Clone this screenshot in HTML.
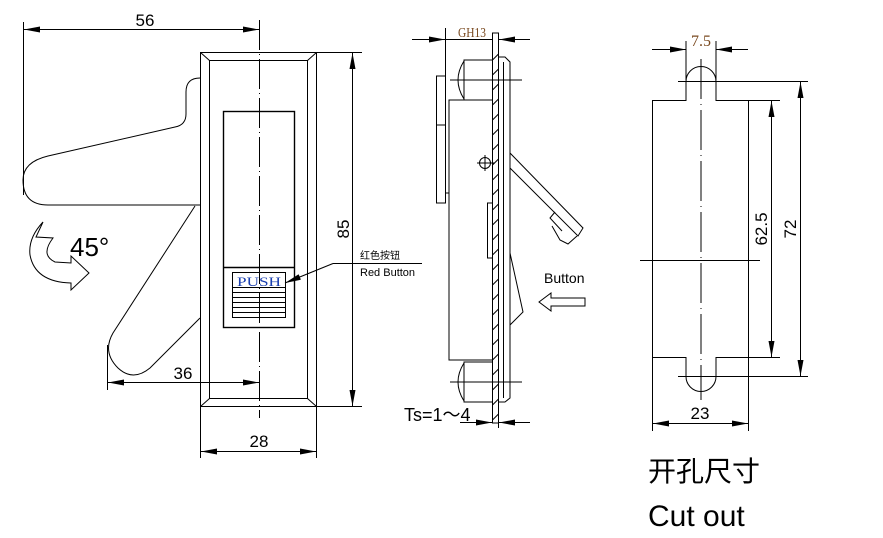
<!DOCTYPE html>
<html><head><meta charset="utf-8"><style>
body{margin:0;background:#fff}
svg{display:block}
</style></head><body>
<svg width="883" height="538" viewBox="0 0 883 538" xmlns="http://www.w3.org/2000/svg" font-family="Liberation Sans, sans-serif">
<defs>
<marker id="a" markerWidth="16" markerHeight="6" refX="16" refY="3" orient="auto-start-reverse" markerUnits="userSpaceOnUse"><path d="M0,0 L16,3 L0,6 z" fill="#000"/></marker>
</defs>
<g fill="none" stroke="#000" stroke-width="1">
<!-- LEFT VIEW -->
<rect x="200.5" y="52.5" width="116" height="354"/>
<rect x="209.5" y="60.5" width="98" height="338"/>
<line x1="200.5" y1="52.5" x2="209.5" y2="60.5"/><line x1="316.5" y1="52.5" x2="307.5" y2="60.5"/>
<line x1="200.5" y1="406.5" x2="209.5" y2="398.5"/><line x1="316.5" y1="406.5" x2="307.5" y2="398.5"/>
<rect x="223.5" y="111.5" width="71" height="216" stroke-width="1.4"/>
<line x1="223.5" y1="267.5" x2="294.5" y2="267.5" stroke-width="1.4"/>
<rect x="232.5" y="272.5" width="53" height="45"/>
<path d="M232.5 287.5H285.5M232.5 292.5H285.5M232.5 297.5H285.5M232.5 302.5H285.5M232.5 307.5H285.5M232.5 312.5H285.5"/>
<line x1="259.5" y1="20" x2="259.5" y2="418" stroke-dasharray="30,4,1,4"/>
<path d="M200 78 Q186 78 186 92 L186 114 Q186 125 175 127 L48 156 Q23 162 23 180 Q23 205 48 205 L200 205"/>
<path d="M195 206 L113 333 Q102 352 118 368 Q133 382 150 368 L200 318"/>
<line x1="23.5" y1="22" x2="23.5" y2="195"/>
<line x1="24" y1="29.5" x2="259" y2="29.5" marker-start="url(#a)" marker-end="url(#a)"/>
<line x1="107.5" y1="345" x2="107.5" y2="390"/>
<line x1="108" y1="382.5" x2="259" y2="382.5" marker-start="url(#a)" marker-end="url(#a)"/>
<line x1="316" y1="52.5" x2="362" y2="52.5"/><line x1="316" y1="406.5" x2="362" y2="406.5"/>
<line x1="352.5" y1="53" x2="352.5" y2="406" marker-start="url(#a)" marker-end="url(#a)"/>
<line x1="200.5" y1="406" x2="200.5" y2="458"/><line x1="316.5" y1="406" x2="316.5" y2="458"/>
<line x1="201" y1="451.5" x2="316" y2="451.5" marker-start="url(#a)" marker-end="url(#a)"/>
<line x1="333" y1="263.5" x2="285" y2="283" marker-end="url(#a)"/>
<line x1="333" y1="263.5" x2="422" y2="263.5"/>
<path d="M43 222 L36 237 L53 238 Q40 255 55 262 L71 263 L71 256 L89 273 L71 290 L71 283 Q35 282 30 255 Q28 238 43 222 Z"/>
<!-- MIDDLE VIEW -->
<rect x="492.5" y="33" width="6" height="390"/>
<path d="M498.5 57 L505 57 L510 62 L510 398 L505 402 L498.5 402"/>
<line x1="503.5" y1="62" x2="503.5" y2="398"/>
<path d="M492.5 60 L464 60 L464 100 L492.5 100 M464 61 Q452 80 464 99"/>
<path d="M492.5 362 L464 362 L464 402 L492.5 402 M464 363 Q452 382 464 401"/>
<path d="M492.5 100 L449 100 L449 193 L445 193 M449 193 L449 360 L492.5 360"/>
<rect x="436.5" y="76" width="9" height="127"/>
<line x1="436.5" y1="125" x2="445.5" y2="125"/>
<rect x="487.5" y="203" width="5" height="55"/>
<line x1="450" y1="80" x2="522" y2="80"/><line x1="450" y1="382" x2="522" y2="382"/>
<circle cx="485" cy="163" r="5.5"/><line x1="477" y1="163" x2="495" y2="163"/><line x1="485" y1="155" x2="485" y2="171"/>
<path d="M510 153 L583 228 L578 236 L510 168"/>
<path d="M555 212 L550 218 L562 231 M552 226 L560 240 L568 244 L577 236"/>
<path d="M510 253 L523 312 L510 325"/>
<path d="M492.5 60 l6 -6 M492.5 75 l6 -6 M492.5 90 l6 -6 M492.5 105 l6 -6 M492.5 120 l6 -6 M492.5 135 l6 -6 M492.5 150 l6 -6 M492.5 165 l6 -6 M492.5 180 l6 -6 M492.5 195 l6 -6 M492.5 210 l6 -6 M492.5 225 l6 -6 M492.5 240 l6 -6 M492.5 255 l6 -6 M492.5 270 l6 -6 M492.5 285 l6 -6 M492.5 300 l6 -6 M492.5 315 l6 -6 M492.5 330 l6 -6 M492.5 345 l6 -6 M492.5 360 l6 -6 M492.5 375 l6 -6 M492.5 390 l6 -6 M492.5 405 l6 -6 M492.5 420 l6 -6"/>
<line x1="445.5" y1="28" x2="445.5" y2="76"/>
<line x1="412" y1="39.5" x2="445" y2="39.5" marker-end="url(#a)"/>
<line x1="530" y1="39.5" x2="499" y2="39.5" marker-end="url(#a)"/>
<line x1="445" y1="39.5" x2="492" y2="39.5"/>
<line x1="460" y1="422.5" x2="492" y2="422.5" marker-end="url(#a)"/>
<line x1="530" y1="422.5" x2="499" y2="422.5" marker-end="url(#a)"/>
<line x1="498.5" y1="402" x2="498.5" y2="428"/>
<path d="M585 298 L585 306 L551 306 L551 311 L539 302 L551 293 L551 298 Z"/>
<!-- RIGHT VIEW -->
<path d="M652.5 100.5 L686 100.5 L686 81.5 A15 15 0 0 1 716 81.5 L716 100.5 L748.5 100.5 L748.5 357.5 L716 357.5 L716 376.5 A15 15 0 0 1 686 376.5 L686 357.5 L652.5 357.5 Z"/>
<line x1="701" y1="59" x2="701" y2="400" stroke-dasharray="40,5,1,5"/>
<line x1="640" y1="260.5" x2="760" y2="260.5"/>
<line x1="678" y1="81.5" x2="808" y2="81.5"/><line x1="678" y1="376.5" x2="808" y2="376.5"/>
<line x1="748" y1="100.5" x2="780" y2="100.5"/><line x1="748" y1="357.5" x2="780" y2="357.5"/>
<line x1="771.5" y1="101" x2="771.5" y2="357" marker-start="url(#a)" marker-end="url(#a)"/>
<line x1="800.5" y1="82" x2="800.5" y2="376" marker-start="url(#a)" marker-end="url(#a)"/>
<line x1="686" y1="41" x2="686" y2="80"/><line x1="716" y1="41" x2="716" y2="80"/>
<line x1="652" y1="49.5" x2="686" y2="49.5" marker-end="url(#a)"/>
<line x1="748" y1="49.5" x2="716" y2="49.5" marker-end="url(#a)"/>
<line x1="652.5" y1="357" x2="652.5" y2="431"/><line x1="748.5" y1="357" x2="748.5" y2="431"/>
<line x1="653" y1="423.5" x2="748" y2="423.5" marker-start="url(#a)" marker-end="url(#a)"/>
</g>
<g fill="#000">
<text x="145" y="26" font-size="17" text-anchor="middle">56</text>
<text x="183" y="379" font-size="17" text-anchor="middle">36</text>
<text x="259" y="447" font-size="17" text-anchor="middle">28</text>
<text font-size="17" text-anchor="middle" transform="translate(349,229) rotate(-90)">85</text>
<text x="70" y="256" font-size="26">45°</text>
<text x="259" y="286" font-size="13" fill="#1a3fb0" text-anchor="middle" font-family="Liberation Serif, serif" textLength="44" lengthAdjust="spacingAndGlyphs">PUSH</text>
<text x="360" y="259" font-size="10" font-family="Liberation Sans, Noto Sans CJK SC, sans-serif">红色按钮</text>
<text x="360" y="276" font-size="11">Red Button</text>
<text x="472" y="37" font-size="14" text-anchor="middle" font-family="Liberation Serif, serif" fill="#7a4a20" textLength="28" lengthAdjust="spacingAndGlyphs">GH13</text>
<text x="544" y="283" font-size="14">Button</text>
<text x="404" y="421" font-size="18">Ts=1～4</text>
<text x="701" y="46" font-size="16" text-anchor="middle" font-family="Liberation Serif, serif" fill="#7a4a20">7.5</text>
<text font-size="17" text-anchor="middle" transform="translate(767,229) rotate(-90)">62.5</text>
<text font-size="17" text-anchor="middle" transform="translate(796,229) rotate(-90)">72</text>
<text x="700" y="419" font-size="17" text-anchor="middle">23</text>
<text x="648" y="481" font-size="28" font-family="Liberation Sans, Noto Sans CJK SC, sans-serif">开孔尺寸</text>
<text x="648" y="526" font-size="30">Cut out</text>
</g>
</svg>
</body></html>
